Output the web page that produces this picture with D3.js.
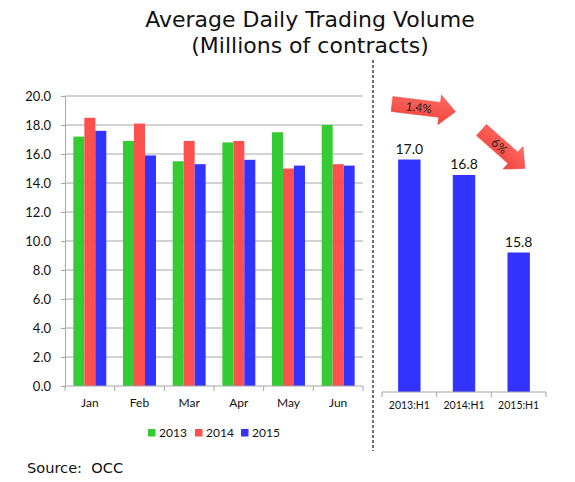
<!DOCTYPE html>
<html>
<head>
<meta charset="utf-8">
<script src="https://cdn.jsdelivr.net/npm/d3@7"></script>
<style>
  body { margin: 0; background: #fff; }
  .tick text { font-family: Lato, sans-serif; fill: #111; }
</style>
</head>
<body>
<div id="chart"></div>
<script>
// monthly averages, millions of contracts
var months = ["Jan", "Feb", "Mar", "Apr", "May", "Jun"];
var years = ["2013", "2014", "2015"];
var v2013 = [17.2, 16.9, 15.5, 16.8, 17.5, 18.0];
var v2014 = [18.5, 18.1, 16.9, 16.9, 15.0, 15.3];
var v2015 = [17.6, 15.9, 15.3, 15.6, 15.2, 15.2];
var yTicks = [0, 2, 4, 6, 8, 10, 12, 14, 16, 18, 20];

// first-half averages
var halves = ["2013:H1", "2014:H1", "2015:H1"];
var halfValues = [17.0, 16.8, 15.8];
var changes = ["1.4%", "6%"];

var colors = { "2013": "#33cc33", "2014": "#ff5050", "2015": "#3333ff" };
var gridColor = "#a6a6a6";

var width = 575, height = 482;

var svg = d3.select("#chart").append("svg")
    .attr("width", width)
    .attr("height", height);

// title
var title = svg.append("g")
    .attr("font-family", "'DejaVu Sans', Verdana, sans-serif")
    .attr("font-size", 22)
    .attr("text-anchor", "middle")
    .attr("fill", "#111");
title.append("text").attr("x", 310).attr("y", 27).text("Average Daily Trading Volume");
title.append("text").attr("x", 310).attr("y", 53).text("(Millions of contracts)");

// ---------- monthly chart ----------
var y = d3.scaleLinear().domain([0, 20]).range([386, 96]);
var x0 = d3.scaleBand().domain(months).range([65, 363]);
var x1 = d3.scaleBand().domain(years).range([0, x0.bandwidth()]).paddingOuter(0.76);

// gridlines
svg.append("g").selectAll("line")
    .data(yTicks.filter(function(d) { return d > 0; }))
    .enter().append("line")
    .attr("x1", 65).attr("x2", 363)
    .attr("y1", function(d) { return y(d); })
    .attr("y2", function(d) { return y(d); })
    .attr("stroke", gridColor)
    .attr("stroke-width", 1);

var series = [v2013, v2014, v2015];
var rows = [];
months.forEach(function(m, i) {
  years.forEach(function(yr, j) {
    rows.push({ month: m, year: yr, value: series[j][i] });
  });
});

svg.append("g").selectAll("rect")
    .data(rows)
    .enter().append("rect")
    .attr("x", function(d) { return x0(d.month) + x1(d.year); })
    .attr("y", function(d) { return y(d.value); })
    .attr("width", x1.bandwidth())
    .attr("height", function(d) { return y(0) - y(d.value); })
    .attr("fill", function(d) { return colors[d.year]; });

// left axis
var yAxis = svg.append("g")
    .attr("transform", "translate(65,0)")
    .call(d3.axisLeft(y).tickValues(yTicks).tickFormat(d3.format(".1f")).tickSize(4).tickPadding(10));
yAxis.select(".domain").attr("stroke", gridColor);
yAxis.selectAll(".tick line").attr("stroke", gridColor);
yAxis.selectAll(".tick text").attr("font-size", 13);

// bottom axis, ticks between the categories
var xAxis = svg.append("g")
    .attr("transform", "translate(0,386)")
    .call(d3.axisBottom(x0).tickSize(0).tickPadding(12));
xAxis.select(".domain").remove();
xAxis.selectAll(".tick text").attr("font-size", 12);
xAxis.append("line").attr("x1", 65).attr("x2", 363).attr("stroke", gridColor);
xAxis.selectAll(".sep")
    .data(months.map(function(m) { return x0(m); }).concat([x0.range()[1]]))
    .enter().append("line")
    .attr("x1", function(d) { return d; }).attr("x2", function(d) { return d; })
    .attr("y1", 0).attr("y2", 5)
    .attr("stroke", gridColor);

// legend
var legend = svg.append("g").attr("font-family", "Lato, sans-serif").attr("font-size", 12);
var legendX = [148, 195, 241];
years.forEach(function(yr, i) {
  legend.append("rect").attr("x", legendX[i]).attr("y", 429).attr("width", 7.5).attr("height", 7.5)
      .attr("fill", colors[yr]);
  legend.append("text").attr("x", legendX[i] + 11).attr("y", 437).attr("fill", "#111").text(yr);
});

// source
svg.append("text")
    .attr("x", 27).attr("y", 473)
    .attr("font-family", "'DejaVu Sans', Verdana, sans-serif")
    .attr("font-size", 14.6)
    .attr("fill", "#111")
    .style("white-space", "pre")
    .text("Source:  OCC");

// dashed divider
svg.append("line")
    .attr("x1", 373).attr("x2", 373)
    .attr("y1", 60).attr("y2", 451)
    .attr("stroke", "#111")
    .attr("stroke-width", 1.2)
    .attr("stroke-dasharray", "3,2");

// ---------- first-half chart ----------
var yr2 = d3.scaleLinear().domain([14, 18]).range([392, 82]);
var xr = d3.scaleBand().domain(halves).range([382, 546]).paddingInner(0.59).paddingOuter(0.295);

svg.append("g").selectAll("rect")
    .data(halves)
    .enter().append("rect")
    .attr("x", function(d) { return xr(d); })
    .attr("y", function(d, i) { return yr2(halfValues[i]); })
    .attr("width", xr.bandwidth())
    .attr("height", function(d, i) { return yr2(14) - yr2(halfValues[i]); })
    .attr("fill", "#3333ff");

svg.append("g").selectAll("text")
    .data(halves)
    .enter().append("text")
    .attr("x", function(d) { return xr(d) + xr.bandwidth() / 2; })
    .attr("y", function(d, i) { return yr2(halfValues[i]) - 6; })
    .attr("text-anchor", "middle")
    .attr("font-family", "Lato, sans-serif")
    .attr("font-size", 14)
    .attr("fill", "#111")
    .text(function(d, i) { return d3.format(".1f")(halfValues[i]); });

var xAxis2 = svg.append("g")
    .attr("transform", "translate(0,392)")
    .call(d3.axisBottom(xr).tickSize(0).tickPadding(10));
xAxis2.select(".domain").remove();
xAxis2.selectAll(".tick text").attr("font-size", 10.5);
xAxis2.append("line").attr("x1", 382).attr("x2", 546).attr("stroke", gridColor);
var step = xr.step();
xAxis2.selectAll(".sep")
    .data(d3.range(halves.length + 1).map(function(i) { return 382 + i * step; }))
    .enter().append("line")
    .attr("x1", function(d) { return d; }).attr("x2", function(d) { return d; })
    .attr("y1", 0).attr("y2", 5)
    .attr("stroke", gridColor);

// change arrows
var defs = svg.append("defs");
var grad = defs.append("linearGradient").attr("id", "arrowFill")
    .attr("x1", 0).attr("y1", 0).attr("x2", 0).attr("y2", 1);
grad.append("stop").attr("offset", "0%").attr("stop-color", "#ff6b63");
grad.append("stop").attr("offset", "100%").attr("stop-color", "#f0443c");

function blockArrow(len, headLen, bodyHalf, headHalf) {
  var p = d3.path();
  p.moveTo(0, -bodyHalf);
  p.lineTo(len - headLen, -bodyHalf);
  p.lineTo(len - headLen, -headHalf);
  p.lineTo(len, 0);
  p.lineTo(len - headLen, headHalf);
  p.lineTo(len - headLen, bodyHalf);
  p.lineTo(0, bodyHalf);
  p.closePath();
  return p.toString();
}

var arrows = [
  { x: 392, y: 104, angle: 7, len: 64, label: changes[0] },
  { x: 481.5, y: 130, angle: 41.5, len: 58, label: changes[1] }
];

var arrowG = svg.append("g").selectAll("g")
    .data(arrows)
    .enter().append("g")
    .attr("transform", function(d) { return "translate(" + d.x + "," + d.y + ") rotate(" + d.angle + ")"; });

arrowG.append("path")
    .attr("d", function(d) { return blockArrow(d.len, 16, 7.5, 15); })
    .attr("fill", "url(#arrowFill)")
    .attr("stroke", "#e8403a")
    .attr("stroke-width", 0.5);

arrowG.append("text")
    .attr("x", function(d) { return (d.len - 16) / 2 + 3; })
    .attr("y", 4.5)
    .attr("text-anchor", "middle")
    .attr("font-family", "Lato, sans-serif")
    .attr("font-size", 12)
    .attr("fill", "#222")
    .text(function(d) { return d.label; });
</script>
</body>
</html>
